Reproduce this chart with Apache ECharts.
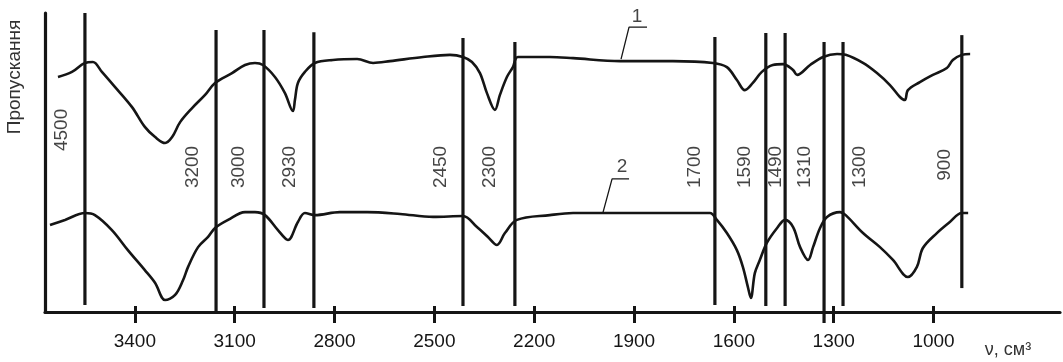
<!DOCTYPE html>
<html><head><meta charset="utf-8">
<script src="https://cdn.jsdelivr.net/npm/echarts@6/dist/echarts.min.js"></script>
<style>html,body{margin:0;padding:0;background:#fff}#c{width:1063px;height:362px}</style>
</head><body><div id="c"></div>
<script>
// Wavenumber axis ticks (cm^-1)
const xTicks = [3400, 3100, 2800, 2500, 2200, 1900, 1600, 1300, 1000];

// Spectrum 1 (upper trace): [wavenumber, transmittance, arb. units]
const spectrum1 = [
  [3631,78.6],[3589,80.3],[3550,83.3],[3526,83.6],[3499,80.3],[3460,75.3],[3409,68.6],
  [3370,61.9],[3339,58.5],[3309,56.5],[3288,58.5],[3264,63.5],[3228,68.2],[3189,72.6],
  [3159,76.6],[3108,79.9],[3069,82.6],[3039,83.3],[3015,82.6],[2979,78.6],[2949,73.2],
  [2925,67.2],[2919,70.9],[2910,76.6],[2889,80.3],[2859,83.3],[2805,84.3],[2732,84.6],
  [2684,83.3],[2633,83.9],[2534,85.3],[2453,86.0],[2414,85.3],[2387,83.6],[2363,79.9],
  [2342,73.2],[2318,67.6],[2303,72.6],[2282,78.6],[2264,81.9],[2249,85.3],[2153,85.3],
  [2083,84.9],[1942,83.9],[1783,83.9],[1663,83.3],[1621,81.9],[1591,77.6],[1567,74.2],
  [1543,76.6],[1516,80.3],[1483,82.6],[1452,82.9],[1422,80.9],[1410,79.3],[1371,82.6],
  [1332,85.3],[1290,86.3],[1264,86.0],[1212,83.3],[1170,79.9],[1131,75.9],[1101,71.9],
  [1086,70.9],[1077,74.2],[1041,76.9],[1002,79.3],[960,81.6],[942,84.3],[915,86.0],[890,86.3]
];

// Spectrum 2 (lower trace)
const spectrum2 = [
  [3655,29.1],[3610,30.8],[3550,33.1],[3520,32.4],[3469,27.4],[3421,20.7],[3370,14.0],
  [3339,9.7],[3309,4.0],[3279,5.7],[3255,10.7],[3240,15.1],[3210,21.7],[3180,25.1],
  [3159,28.1],[3120,30.8],[3069,33.4],[3039,33.4],[3009,32.4],[2970,27.4],[2940,24.1],
  [2910,30.1],[2889,33.1],[2859,32.4],[2784,33.4],[2702,33.4],[2603,32.8],[2504,31.8],
  [2414,32.1],[2372,28.4],[2339,25.1],[2312,22.4],[2288,26.4],[2252,30.8],[2153,32.4],
  [2083,33.1],[1981,33.1],[1882,33.1],[1783,33.1],[1672,33.1],[1651,30.8],[1621,26.4],
  [1591,20.7],[1573,15.1],[1558,8.4],[1549,4.7],[1537,13.0],[1522,17.4],[1501,23.1],
  [1470,28.1],[1446,30.8],[1422,28.4],[1401,21.7],[1377,17.4],[1362,21.7],[1341,28.1],
  [1320,31.8],[1281,33.4],[1264,32.4],[1212,26.4],[1161,21.7],[1122,17.4],[1077,11.7],
  [1050,15.1],[1032,21.4],[990,26.4],[951,30.1],[915,33.1],[896,33.1]
];

// Band marker lines: label text, line wavenumber, line top, line bottom
const bandNames   = ['4500','3200','3000','2930','2450','2300','1700','1590','1490','1310','1300','900'];
const bandLineAt  = [3550, 3156, 3012, 2862, 2414, 2258, 1657, 1504, 1446, 1329, 1272, 915];
const bandTop     = [100, 94.3, 94.3, 93.6, 91.6, 90.3, 92.0, 93.3, 93.3, 90.3, 90.3, 92.6];
const bandBottom  = [2.3, 0, 1.3, 1.3, 2.0, 2.0, 2.3, 2.0, 2.0, -3.7, 2.0, 8.0];
// where each band's rotated label sits [wavenumber, value]
const bandLabelAt = [[3619,60.9],[3225,48.5],[3087,48.5],[2934,48.5],[2480,48.5],[2333,48.5],
                     [1717,48.5],[1567,48.5],[1473,48.5],[1386,48.5],[1221,48.5],[966,49.2]];

// Curve tags "1" and "2" with leader lines
const curveTags = ['1', '2'];
const curveTagAt = [[1891,98.7],[1936,48.5]];
const curveLeaders = [
  [[1861,95.3],[1915,95.3],[1939,84.6]],
  [[1915,44.5],[1966,44.5],[1993,33.4]]
];

const yName = 'Пропускання';
const xName = 'ν, см³';

const INK = '#151515';
const FONT = '"Liberation Sans", Arial, sans-serif';

const chart = echarts.init(document.getElementById('c'), null, {renderer: 'canvas'});

const series = [
  {type:'line', data: spectrum1, smooth: 0.35, showSymbol:false, symbol:'none',
   lineStyle:{color:INK, width:2.6}, z:3},
  {type:'line', data: spectrum2, smooth: 0.35, showSymbol:false, symbol:'none',
   lineStyle:{color:INK, width:2.6}, z:3},
  {type:'scatter', symbolSize:0, silent:true, clip:false,
   data: bandLabelAt.map((p,i)=>({value:p, name:bandNames[i]})),
   label:{show:true, position:'inside', rotate:90, formatter:'{b}',
     color:INK, fontSize:19, fontFamily:FONT}},
  {type:'scatter', symbolSize:0, silent:true, clip:false,
   data: curveTagAt.map((p,i)=>({value:p, name:curveTags[i]})),
   label:{show:true, position:'inside', formatter:'{b}',
     color:INK, fontSize:19, fontFamily:FONT}}
];
bandLineAt.forEach((w,i) => series.push({
  type:'line', data: [[w, bandTop[i]], [w, bandBottom[i]]], showSymbol:false, symbol:'none',
  silent:true, clip:false, lineStyle:{color:INK, width:3.2}, z:2
}));
curveLeaders.forEach(pts => series.push({
  type:'line', data: pts, showSymbol:false, symbol:'none', silent:true, clip:false,
  lineStyle:{color:INK, width:1.3}
}));

chart.setOption({
  animation:false,
  backgroundColor:'#fff',
  grid:{left:45, right:3, top:13, bottom:50},
  xAxis:[{
    type:'value', inverse:true, min:620, max:3670, position:'bottom',
    axisLine:{show:true, onZero:false, lineStyle:{color:INK, width:3.2}},
    axisTick:{show:true, length:11, customValues:xTicks, lineStyle:{color:INK, width:3}},
    axisLabel:{show:true, customValues:xTicks, margin:20, color:INK, fontSize:19, fontFamily:FONT,
      formatter: v => String(v)},
    splitLine:{show:false}
  },{
    type:'value', inverse:true, min:620, max:3670, position:'bottom',
    axisLine:{show:false, onZero:false},
    axisTick:{show:true, inside:true, length:6, customValues:xTicks, lineStyle:{color:INK, width:3}},
    axisLabel:{show:false}, splitLine:{show:false}
  }],
  yAxis:{
    type:'value', min:0, max:100,
    axisLine:{show:true, lineStyle:{color:INK, width:3.2}},
    axisTick:{show:false}, axisLabel:{show:false}, splitLine:{show:false}
  },
  graphic:[
    {type:'text', x:15, y:77, rotation:Math.PI/2,
     style:{text:yName, fill:'#333', font:'19px ' + FONT, textAlign:'center', textVerticalAlign:'middle'}},
    {type:'text', x:1008, y:350,
     style:{text:xName, fill:'#333', font:'18px ' + FONT, textAlign:'center', textVerticalAlign:'middle'}}
  ],
  series: series
});
</script>
</body></html>
